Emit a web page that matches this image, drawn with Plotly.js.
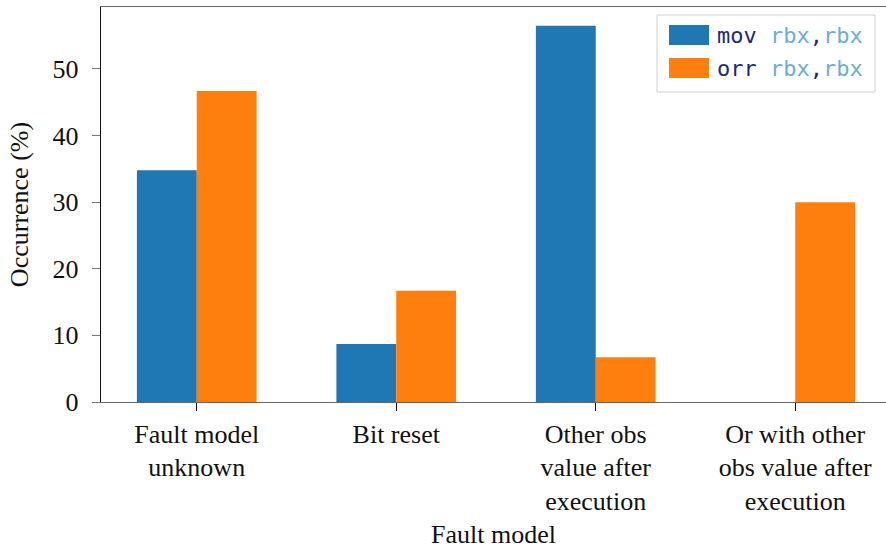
<!DOCTYPE html>
<html><head><meta charset="utf-8">
<script src="https://cdn.plot.ly/plotly-3.0.1.min.js"></script>
<style>body{margin:0;padding:0;background:#fff}#chart{width:886px;height:549px}</style>
</head><body><div id="chart"></div>
<script>
const categories = ["Fault model<br>unknown", "Bit reset", "Other obs<br>value after<br>execution", "Or with other<br>obs value after<br>execution"];
const movValues = [34.8, 8.7, 56.5, 0.0];
const orrValues = [46.7, 16.7, 6.7, 30.0];
const seriesNames = ["mov", "orr"];
const operandText = "rbx";
const yTicks = [0, 10, 20, 30, 40, 50];

const W = 886, H = 549, L = 101, R = 0, T = 7, B = 147;
const pw = W - L - R, ph = H - T - B;
const px = x => (x - L) / pw;
const py = y => 1 - (y - T) / ph;

const serif = "Liberation Serif, serif";
const mono = "DejaVu Sans Mono, monospace";
const navy = "#1b2a78", light = "#6baed6";
const colors = ["#1f77b4", "#ff7f0e"];

const traces = [
  {type: "bar", x: categories, y: movValues, name: seriesNames[0], marker: {color: colors[0]}},
  {type: "bar", x: categories, y: orrValues, name: seriesNames[1], marker: {color: colors[1]}}
];

const legendText = n => `<span style="color:${navy}">${n}</span> <span style="color:${light}">${operandText}</span><span style="color:${navy}">,</span><span style="color:${light}">${operandText}</span>`;

const shapes = [
  {type: "rect", xref: "paper", yref: "paper", x0: px(657), x1: px(875), y0: py(92), y1: py(15), line: {color: "#d0d0d0", width: 1}, fillcolor: "rgba(255,255,255,0.9)", layer: "above"},
  {type: "rect", xref: "paper", yref: "paper", x0: px(669), x1: px(709), y0: py(45), y1: py(25), line: {width: 0}, fillcolor: colors[0], layer: "above"},
  {type: "rect", xref: "paper", yref: "paper", x0: px(669), x1: px(709), y0: py(78), y1: py(58), line: {width: 0}, fillcolor: colors[1], layer: "above"}
];
const annotations = [
  {xref: "paper", yref: "paper", x: px(715), y: py(36), xanchor: "left", yanchor: "middle", showarrow: false, text: legendText(seriesNames[0]), font: {family: mono, size: 22, color: navy}},
  {xref: "paper", yref: "paper", x: px(715), y: py(69), xanchor: "left", yanchor: "middle", showarrow: false, text: legendText(seriesNames[1]), font: {family: mono, size: 22, color: navy}}
];

const layout = {
  width: W, height: H,
  margin: {l: L, r: R, t: T, b: B, pad: 0},
  paper_bgcolor: "#fff", plot_bgcolor: "#fff",
  barmode: "group", bargap: 0.4, bargroupgap: 0,
  showlegend: false,
  font: {family: serif, size: 26, color: "#111"},
  xaxis: {
    type: "category", range: [-0.48, 3.455],
    showline: true, linecolor: "#666", linewidth: 1.3, mirror: true,
    ticks: "outside", ticklen: 8, tickcolor: "#111", tickwidth: 1,
    showgrid: false, zeroline: false,
    tickfont: {family: serif, size: 26, color: "#111"},
    title: {text: "Fault model", font: {family: serif, size: 26, color: "#111"}, standoff: 14},
    automargin: false
  },
  yaxis: {
    range: [0, 59.3], tickvals: yTicks,
    showline: true, linecolor: "#111", linewidth: 1.3,
    ticks: "outside", ticklen: 8, tickcolor: "#777", tickwidth: 1,
    ticklabelstandoff: 8,
    showgrid: false, zeroline: false,
    tickfont: {family: serif, size: 26, color: "#111"},
    title: {text: "Occurrence (%)", font: {family: serif, size: 26, color: "#111"}, standoff: 16},
    automargin: false
  },
  shapes: shapes,
  annotations: annotations
};

Plotly.newPlot("chart", traces, layout, {displayModeBar: false, staticPlot: true});
</script></body></html>
